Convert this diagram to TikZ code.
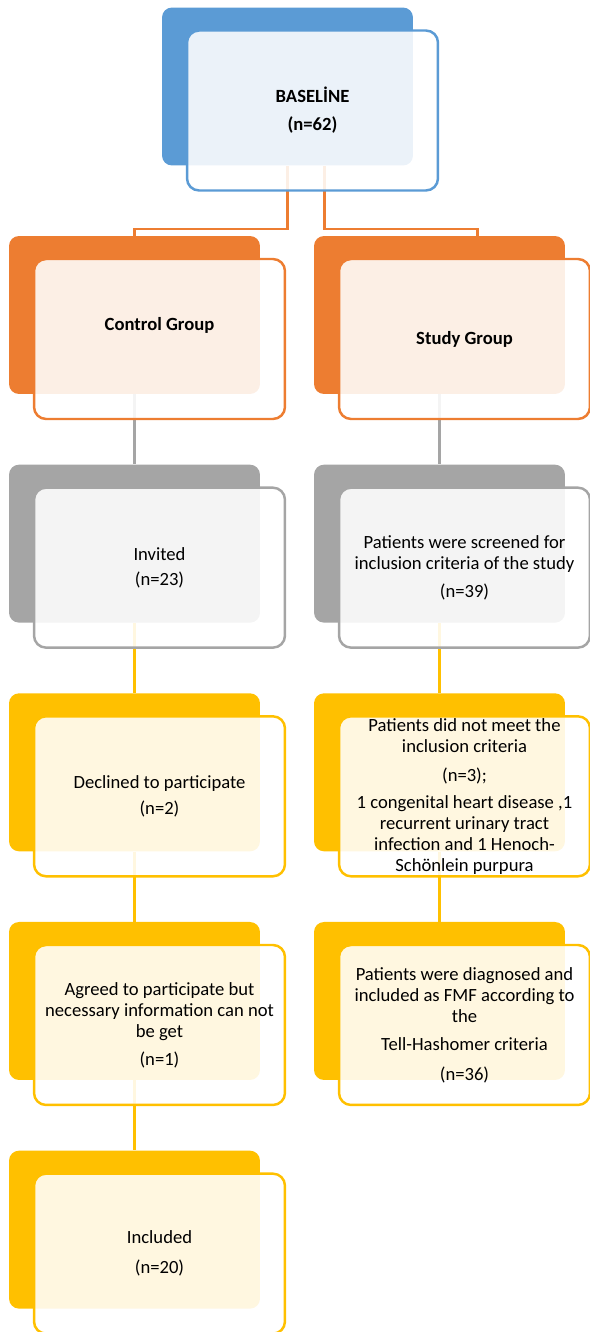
\documentclass[tikz,border=0pt]{standalone}
\usepackage{fontspec}
\setmainfont{Carlito}
\usetikzlibrary{positioning, calc}
\definecolor{cBlue}{HTML}{5B9BD5}
\definecolor{cOrange}{HTML}{ED7D31}
\definecolor{cGrey}{HTML}{A5A5A5}
\definecolor{cGold}{HTML}{FFC000}
\tikzset{
  backbox/.style={fill=#1, rounded corners=0.2cm, minimum width=5.02cm,
    minimum height=3.16cm, inner sep=0pt},
  frontbox/.style={draw=#1, line width=1.4pt, fill=white, fill opacity=0.88,
    text opacity=1, rounded corners=0.24cm, minimum width=5.02cm, minimum height=3.2cm,
    inner sep=1pt, xshift=0.5cm, yshift=-0.48cm, align=center, text=black,
    font=\fontsize{10.6}{12}\selectfont},
  headbox/.style={frontbox=#1, font=\fontsize{10.6}{12}\selectfont\bfseries},
  link/.style={draw=#1, line width=1.3pt},
}

\begin{document}
\begin{tikzpicture}[x=0.02cm, y=-0.02cm]
  \useasboundingbox (0,0) rectangle (589,1332);
  % back shapes
  \node[backbox=cBlue] (base-b) at (287.5,86.5) {};
  \node[backbox=cOrange] (ctrl-b) at (134.5,315) {};
  \node[backbox=cOrange] (study-b) at (439.5,315) {};
  \node[backbox=cGrey, below=1.4cm of ctrl-b] (inv-b) {};
  \node[backbox=cGrey, below=1.4cm of study-b] (scr-b) {};
  \node[backbox=cGold, below=1.4cm of inv-b] (decl-b) {};
  \node[backbox=cGold, below=1.4cm of scr-b] (excl-b) {};
  \node[backbox=cGold, below=1.4cm of decl-b] (agree-b) {};
  \node[backbox=cGold, below=1.4cm of excl-b] (diag-b) {};
  \node[backbox=cGold, below=1.4cm of agree-b] (incl-b) {};

  % connectors
  \draw[link=cOrange] (base-b.south) -- ++(0,63) -| (ctrl-b.north);
  \draw[link=cOrange] ($(base-b.south)+(37,0)$) -- ++(0,63) -| ($(study-b.north)+(38,0)$);
  \draw[link=cGrey] (ctrl-b.south) -- (inv-b.north);
  \draw[link=cGrey] (study-b.south) -- (scr-b.north);
  \draw[link=cGold] (inv-b.south) -- (decl-b.north);
  \draw[link=cGold] (decl-b.south) -- (agree-b.north);
  \draw[link=cGold] (agree-b.south) -- (incl-b.north);
  \draw[link=cGold] (scr-b.south) -- (excl-b.north);
  \draw[link=cGold] (excl-b.south) -- (diag-b.north);

  % front shapes with the text
  \node[headbox=cBlue] (base) at (base-b) {BASELİNE\\[4pt](n=62)};
  \node[headbox=cOrange, text depth=0.6cm] (ctrl) at (ctrl-b) {Control Group};
  \node[headbox=cOrange] (study) at (study-b) {Study Group};
  \node[frontbox=cGrey] (inv) at (inv-b) {Invited\\[2.5pt](n=23)};
  \node[frontbox=cGrey] (scr) at (scr-b)
    {Patients were screened for\\inclusion criteria of the study\\[4pt](n=39)};
  \node[frontbox=cGold] (decl) at (decl-b) {Declined to participate\\[2.5pt](n=2)};
  \node[frontbox=cGold] (excl) at (excl-b)
    {Patients did not meet the\\inclusion criteria\\[5pt](n=3);\\[3pt]1 congenital heart disease ,1\\recurrent urinary tract\\infection and 1 Henoch-\\Schönlein purpura};
  \node[frontbox=cGold] (agree) at (agree-b)
    {Agreed to participate but\\necessary information can not\\be get\\[4pt](n=1)};
  \node[frontbox=cGold] (diag) at (diag-b)
    {Patients were diagnosed and\\included as FMF according to\\the\\[4pt]Tell-Hashomer criteria\\[5pt](n=36)};
  \node[frontbox=cGold] (incl) at (incl-b) {Included\\[5pt](n=20)};
\end{tikzpicture}
\end{document}
